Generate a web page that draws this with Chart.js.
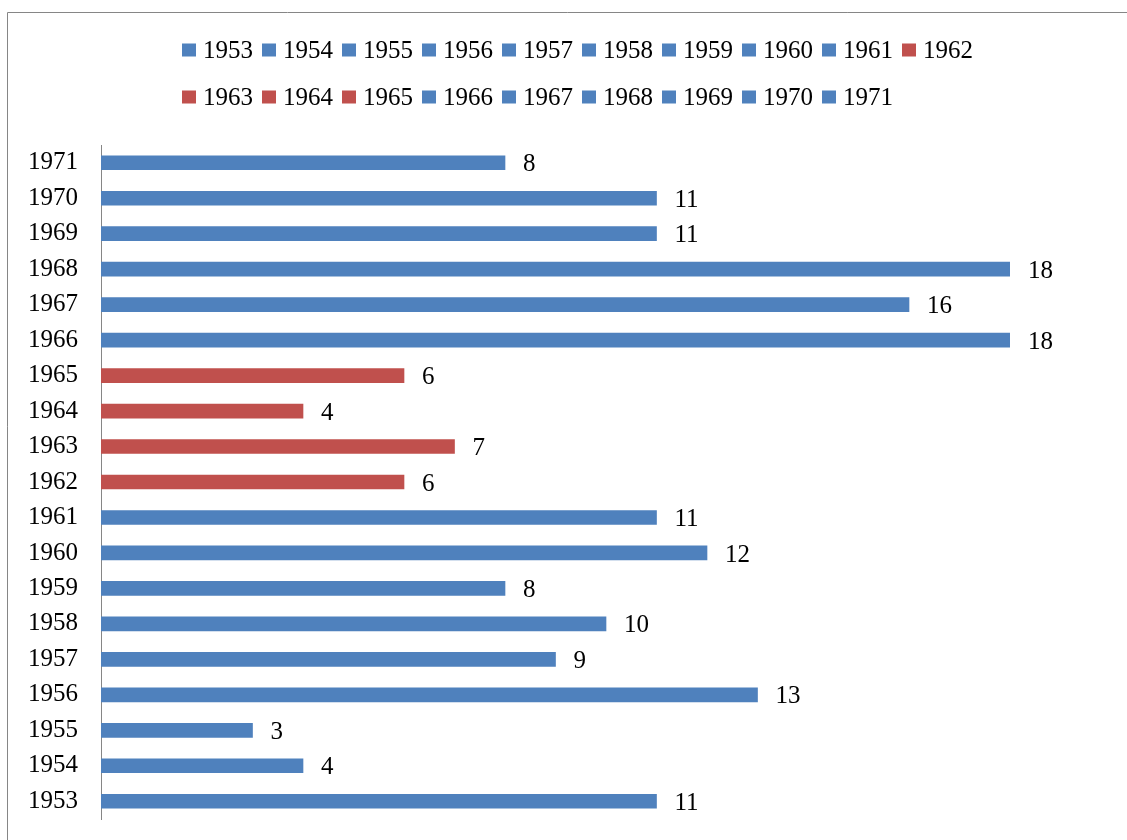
<!DOCTYPE html>
<html>
<head>
<meta charset="utf-8">
<title>Years chart</title>
<script src="https://cdn.jsdelivr.net/npm/chart.js@4.4.0/dist/chart.umd.min.js"></script>
<style>
  body { margin: 0; background: #fff; }
  canvas { display: block; }
</style>
</head>
<body>
<canvas id="yearsChart" width="1127" height="840"></canvas>
<script>
// Data
const years = ['1953', '1954', '1955', '1956', '1957', '1958', '1959', '1960', '1961', '1962',
               '1963', '1964', '1965', '1966', '1967', '1968', '1969', '1970', '1971'];
const counts = [11, 4, 3, 13, 9, 10, 8, 12, 11, 6, 7, 4, 6, 18, 16, 18, 11, 11, 8];
const redYears = ['1962', '1963', '1964', '1965'];
const xTicks = [0, 18];

const blue = '#4F81BD';
const red = '#C0504D';
const barColors = years.map(y => redYears.includes(y) ? red : blue);
const serif = '"Liberation Serif", "Times New Roman", serif';

// Frame, value labels and the two-row legend
const extras = {
    id: 'extras',
    beforeDraw(chart) {
        const ctx = chart.ctx;
        ctx.save();
        ctx.strokeStyle = '#868686';
        ctx.lineWidth = 1;
        ctx.beginPath();
        ctx.moveTo(7.5, chart.height);
        ctx.lineTo(7.5, 12.5);
        ctx.lineTo(chart.width, 12.5);
        ctx.stroke();
        ctx.restore();
    },
    afterDatasetsDraw(chart) {
        const ctx = chart.ctx;
        const meta = chart.getDatasetMeta(0);
        ctx.save();
        ctx.font = '25px ' + serif;
        ctx.fillStyle = '#000';
        ctx.textAlign = 'left';
        ctx.textBaseline = 'middle';
        meta.data.forEach((bar, i) => {
            ctx.fillText(String(counts[i]), bar.x + 18, bar.y + 2);
        });
        ctx.restore();
    },
    afterDraw(chart) {
        const ctx = chart.ctx;
        ctx.save();
        ctx.font = '25px ' + serif;
        ctx.textBaseline = 'middle';
        ctx.textAlign = 'left';
        const startX = 182, maxRight = 1000;
        let x = startX, y = 50;
        years.forEach((yr, i) => {
            const w = ctx.measureText(yr).width;
            if (x + 21 + w > maxRight) {
                x = startX;
                y += 47;
            }
            ctx.fillStyle = barColors[i];
            ctx.fillRect(x, y - 6.5, 14, 13);
            ctx.fillStyle = '#000';
            ctx.fillText(yr, x + 21, y + 1);
            x += 21 + w + 9;
        });
        ctx.restore();
    }
};

const config = {
    type: 'bar',
    data: {
        labels: years,
        datasets: [{
            label: 'Count',
            data: counts,
            backgroundColor: barColors,
            borderWidth: 0,
            barThickness: 14
        }]
    },
    options: {
        indexAxis: 'y',
        responsive: false,
        animation: false,
        layout: { padding: { top: 145, right: 117, bottom: 21, left: 0 } },
        plugins: {
            legend: { display: false },
            tooltip: { enabled: false }
        },
        scales: {
            x: {
                display: false,
                min: xTicks[0],
                max: xTicks[1]
            },
            y: {
                reverse: true,
                grid: { display: false, drawTicks: true, tickLength: 23 },
                border: { display: true, color: '#868686', width: 1 },
                ticks: { color: '#000', font: { family: serif, size: 25 }, padding: 0 },
                afterFit(scale) { scale.width = 101; }
            }
        }
    },
    plugins: [extras]
};

const yearsChart = new Chart(document.getElementById('yearsChart'), config);
</script>
</body>
</html>
